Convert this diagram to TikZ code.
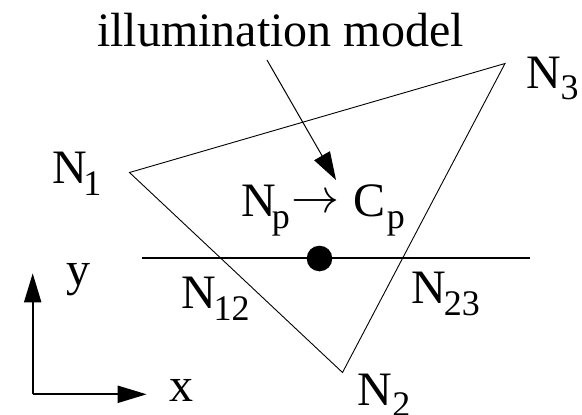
\documentclass[tikz,border=0pt]{standalone}
\usepackage{fix-cm}
\usepackage{fontspec}
\setmainfont{Liberation Serif}
\usetikzlibrary{arrows.meta}
\newcommand{\lowsub}[2][-4pt]{\kern#1\raisebox{-11.7pt}{\fontsize{36}{36}\selectfont #2}}
\newcommand{\bigarr}{\raisebox{4pt}{$\rightarrow$}}
\tikzset{
  lbl/.style={anchor=base west, inner sep=0pt, outer sep=0pt, font=\fontsize{48}{54}\selectfont},
  thinline/.style={line width=0.9pt, line join=miter},
  thickline/.style={line width=2pt},
  bigtip/.style={-{Triangle[length=29pt,width=17pt]}},
}
\begin{document}
\begin{tikzpicture}[x=1pt,y=-1pt]
\useasboundingbox (0,0) rectangle (582,415);
% triangle vertices
\coordinate (v1) at (129.5,172.5);
\coordinate (v2) at (342.5,372.5);
\coordinate (v3) at (505,63.5);
\draw[thinline] (v1) -- (v3) -- (v2) -- cycle;
% scan line
\coordinate (hl) at (141.7,257.5);
\coordinate (hr) at (530,257.5);
\draw[thickline] (hl) -- (hr);
\node[circle, fill=black, inner sep=0pt, minimum size=25.6pt] (dot) at (319.5,258.5) {};
% labels
\node[lbl] (illum) at (97.2,46.7) {illumination model};
\node[lbl] (n1) at (52.7,183.3) {N\lowsub{1}};
\node[lbl] (n3) at (526,88.3) {N\lowsub[0pt]{3}};
\node[lbl] (n2) at (357.7,405) {N\lowsub[0pt]{2}};
\node[lbl] (n12) at (181,308.3) {N\lowsub[-2pt]{12}};
\node[lbl] (n23) at (411.1,303.4) {N\lowsub[-2pt]{23}};
\node[lbl] (npcp) at (241.1,216.7) {N\lowsub{p}\kern2pt\bigarr\kern14pt C\lowsub[1pt]{p}};
% illumination arrow
\coordinate (ia) at (267,60);
\coordinate (ib) at (336,180);
\draw[line width=1pt, -{Triangle[length=28pt,width=18pt]}] (ia) -- (ib);
% axes
\coordinate (o) at (32.7,394.3);
\coordinate (yt) at (32.7,273.3);
\coordinate (xt) at (146.7,394.3);
\draw[thickline, bigtip] (o) -- (yt);
\draw[thickline, bigtip] (o) -- (xt);
\node[lbl] (ylab) at (66,285) {y};
\node[lbl] (xlab) at (169,401.5) {x};
\end{tikzpicture}
\end{document}
